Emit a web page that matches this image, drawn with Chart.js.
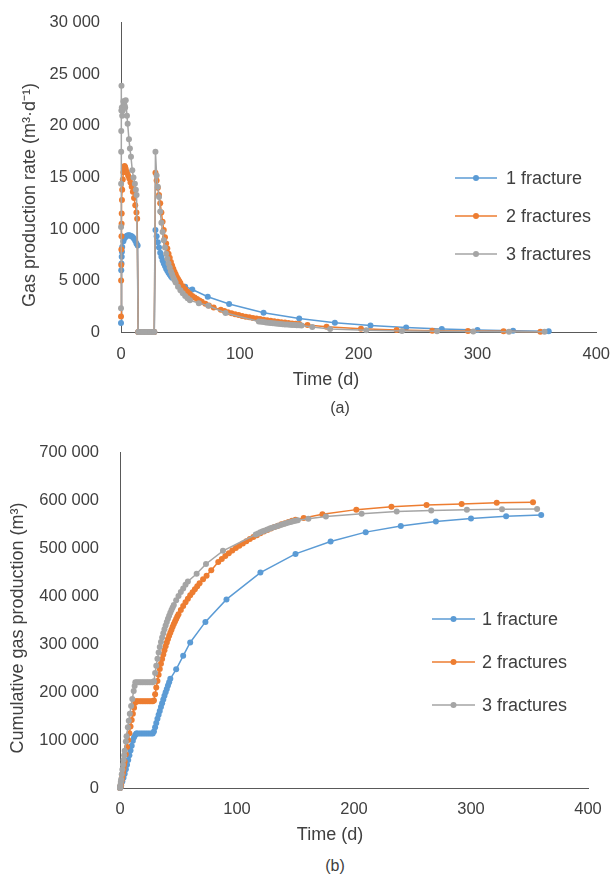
<!DOCTYPE html>
<html>
<head>
<meta charset="utf-8">
<script src="https://cdn.jsdelivr.net/npm/chart.js@4.4.0/dist/chart.umd.min.js"></script>
<style>
  html, body { margin: 0; padding: 0; background: #fff; }
  body { width: 615px; height: 881px; position: relative; overflow: hidden;
         font-family: "Liberation Sans", Arial, sans-serif; color: #404040; }
  .box { position: absolute; left: 0; width: 615px; }
  #boxA { top: 0; height: 400px; }
  #boxB { top: 430px; height: 420px; }
  .cap { position: absolute; width: 60px; text-align: center; font-size: 16px; line-height: 18px; }
</style>
</head>
<body>
<div class="box" id="boxA"><canvas id="rateChart"></canvas></div>
<div class="cap" style="left:310px; top:399px;">(a)</div>
<div class="box" id="boxB"><canvas id="cumChart"></canvas></div>
<div class="cap" style="left:305px; top:857px;">(b)</div>
<script>
// ---- data ----
const seriesNames = ['1 fracture', '2 fractures', '3 fractures'];

// 1 fracture
const tB = [0, 0.2, 0.4, 0.6, 0.8, 1, 2, 3, 4, 5, 6, 7, 8, 9, 10, 11, 12, 13, 14,
    14.5, 16, 17.5, 19, 20.5, 22, 23.5, 25, 26.5, 28,
    29, 30, 31, 32, 33, 34, 35, 36, 37, 38, 39, 40, 41, 42, 43,
    48, 54, 60, 73, 91, 120, 150, 180, 210, 240, 270, 300, 330, 360];
const rateB = [870, 6000, 6650, 7300, 7800, 8250, 8800, 9100, 9250, 9350, 9400, 9400, 9350, 9300, 9200, 9050, 8850, 8600, 8400,
    0, 0, 0, 0, 0, 0, 0, 0, 0, 0,
    9900, 9300, 8700, 8200, 7700, 7300, 6950, 6650, 6400, 6150, 5950, 5750, 5580, 5420, 5270,
    4750, 4400, 4130, 3420, 2710, 1870, 1300, 900, 620, 430, 290, 200, 130, 80];
const cumB = [0, 500, 1500, 2800, 4200, 5700, 13500, 21500, 30000, 39000, 48500, 58500, 68500, 78500, 88500, 98500, 106000, 110500, 114000,
    114000, 114000, 114000, 114000, 114000, 114000, 114000, 114000, 114000, 114000,
    118000, 127000, 136000, 144500, 153000, 161000, 169000, 177000, 185000, 192500, 200000, 207000, 214000, 221000, 228000,
    248000, 276000, 304000, 347000, 394000, 450000, 489000, 515000, 534500, 547500, 556500, 563000, 567500, 570500];

// 2 fractures
const tO = [0, 0.1, 0.2, 0.3, 0.4, 0.5, 0.6, 0.8, 1, 1.5, 2, 2.5, 3, 3.5, 4, 5, 6, 7, 8, 9, 10, 11, 12, 13, 13.6,
    14.5, 16, 17.5, 19, 20.5, 22, 23.5, 25, 26.5, 28,
    29, 30, 31, 32, 33, 34, 35, 36, 37, 38, 39, 40, 41, 42, 43, 44, 45, 46, 47, 48, 49, 50,
    52, 54, 56, 58, 60, 62, 64, 66, 68,
    71, 74, 78,
    84, 87, 90, 93, 96, 99, 102, 105, 108, 111, 114, 117, 120, 123, 126, 129, 132, 135, 138, 141, 144, 147, 150,
    157, 173, 202, 232, 262, 292, 322, 353];
const rateO = [1500, 5000, 6500, 8000, 9300, 10500, 11500, 12800, 13800, 14800, 15500, 15900, 16100, 16000, 15800, 15500, 15200, 14900, 14500, 14100, 13600, 13000, 12300, 11600, 11000,
    0, 0, 0, 0, 0, 0, 0, 0, 0, 0,
    15450, 14700, 14000, 13300, 12500, 11600, 10700, 9900, 9200, 8600, 8100, 7600, 7200, 6800, 6450, 6150, 5850, 5600, 5350, 5150, 4950, 4750,
    4450, 4150, 3900, 3700, 3500, 3350, 3200, 3050, 2930,
    2750, 2580, 2380,
    2150, 2030, 1920, 1820, 1730, 1640, 1560, 1490, 1420, 1360, 1300, 1250, 1200, 1140, 1090, 1040, 990, 950, 910, 870, 830, 800, 770,
    680, 510, 320, 190, 130, 100, 70, 30];
const cumO = [0, 300, 900, 1600, 2500, 3500, 4600, 7000, 9600, 16500, 24000, 31600, 39500, 47300, 55000, 70500, 85500, 100200, 114500, 128500, 142000, 155000, 167400, 178200, 181000,
    181000, 181000, 181000, 181000, 181000, 181000, 181000, 181000, 181000, 181000,
    183000, 196000, 210000, 223500, 236500, 248500, 259500, 269500, 279000, 287800, 296000, 303800, 311000, 318000, 324500, 330700, 336700, 342400, 347800, 353000, 358000, 362800,
    371800, 380200, 388000, 395400, 402400, 409000, 415300, 421300, 427500,
    436000, 443500, 455000,
    472000, 478500, 484700, 490500, 496000, 501200, 506200, 511000, 515600, 520000, 524200, 528200, 532000, 535600, 539000, 542200, 545200, 548000, 550700, 553300, 555800, 558200, 560400,
    564000, 571800, 581500, 587500, 591300, 593500, 596000, 597000];

// 3 fractures
const tG = [0, 0.05, 0.1, 0.15, 0.2, 0.3, 0.4, 0.7, 1, 1.5, 2, 2.5, 3, 3.5, 4, 5, 5.6, 6.7, 7.5, 8.4, 9.5, 10.5, 11.7, 12.5, 13.1,
    14.5, 16, 17.5, 19, 20.5, 22, 23.5, 25, 26.5, 28,
    29, 30, 31, 32, 33, 34, 35, 36, 37, 38, 39, 40, 41, 42, 43, 44, 45, 46, 48, 50, 52, 54, 56, 58,
    65.5, 73.5, 88,
    116, 118, 120, 122, 124, 126, 128, 130, 132, 134, 136, 138, 140, 142, 144, 146, 148, 150, 152,
    161, 176, 206.5, 236.5, 266, 296.5, 326.5, 356.5];
const rateG = [2300, 10200, 14400, 17500, 19500, 21500, 23900, 21800, 21000, 21500, 22400, 22300, 22000, 21800, 22500, 21000, 20200, 18700, 17800, 17000, 15700, 15000, 14400, 13800, 13300,
    0, 0, 0, 0, 0, 0, 0, 0, 0, 0,
    17500, 15200, 14100, 13100, 11700, 10600, 9700, 8900, 8200, 7600, 7100, 6650, 6250, 5900, 5600, 5300, 5050, 4800, 4400, 4050, 3750, 3500, 3270, 3080,
    2800, 2550, 1850,
    1020, 990, 960, 930, 900, 875, 850, 825, 800, 780, 760, 740, 720, 705, 690, 675, 660, 645, 630,
    480, 300, 160, 100, 65, 40, 30, 25];
const cumG = [0, 300, 800, 1500, 2300, 4200, 6300, 12500, 18500, 28500, 38500, 48500, 58500, 68300, 78000, 97000, 108000, 127000, 140500, 155000, 171500, 186000, 202500, 213000, 220800,
    220800, 220800, 220800, 220800, 220800, 220800, 220800, 220800, 220800, 220800,
    223000, 240000, 255500, 270000, 283000, 294500, 305000, 314500, 323500, 331800, 339500, 346800, 353600, 360000, 366000, 371700, 377100, 382300, 392000, 401000, 409300, 417000, 424500, 431500,
    447500, 468000, 495500,
    529500, 531800, 534000, 536100, 538100, 540000, 541900, 543700, 545400, 547000, 548600, 550100, 551600, 553000, 554400, 555700, 557000, 558200, 559400,
    562200, 567000, 573000, 577400, 579500, 581000, 582200, 583000];

const xTicks = [0, 100, 200, 300, 400];
const rateTicks = [0, 5000, 10000, 15000, 20000, 25000, 30000];
const cumTicks = [0, 100000, 200000, 300000, 400000, 500000, 600000, 700000];

// ---- styling ----
const COLORS = ['#5B9BD5', '#ED7D31', '#A5A5A5'];
const TEXT = '#404040';
const AXIS = '#595959';
const FONT_FAMILY = '"Liberation Sans", Arial, sans-serif';

function fmt(v) {
    return String(v).replace(/\B(?=(\d{3})+(?!\d))/g, ' ');
}

function pairs(ts, vs) {
    return ts.map((t, i) => ({ x: t, y: vs[i] }));
}

function makeDatasets(valueSets, timeSets) {
    return valueSets.map((vals, i) => ({
        label: seriesNames[i],
        data: pairs(timeSets[i], vals),
        borderColor: COLORS[i],
        backgroundColor: COLORS[i],
        borderWidth: 1.5,
        pointRadius: 3,
        pointBorderWidth: 0,
        tension: 0,
        clip: false,
        order: 2 - i
    }));
}

// axis titles + legend drawn inside the plot
const decorations = {
    id: 'decorations',
    afterDraw(chart, args, opts) {
        const ctx = chart.ctx;
        ctx.save();
        ctx.font = '18px ' + FONT_FAMILY;
        ctx.fillStyle = TEXT;
        ctx.textAlign = 'center';
        ctx.textBaseline = 'middle';
        ctx.fillText(opts.xTitle, opts.xTitleAt[0], opts.xTitleAt[1]);
        ctx.save();
        ctx.translate(opts.yTitleAt[0], opts.yTitleAt[1]);
        ctx.rotate(-Math.PI / 2);
        ctx.fillText(opts.yTitle, 0, 0);
        ctx.restore();

        const lg = opts.legend;
        chart.data.datasets.forEach((ds, i) => {
            const y = lg.y + i * lg.gap;
            ctx.strokeStyle = ds.borderColor;
            ctx.lineWidth = 1.5;
            ctx.beginPath();
            ctx.moveTo(lg.x, y);
            ctx.lineTo(lg.x + lg.len, y);
            ctx.stroke();
            ctx.fillStyle = ds.borderColor;
            ctx.beginPath();
            ctx.arc(lg.x + lg.len / 2, y, 3, 0, Math.PI * 2);
            ctx.fill();
            ctx.fillStyle = TEXT;
            ctx.textAlign = 'left';
            ctx.fillText(ds.label, lg.x + lg.len + lg.textGap, y + 1);
        });
        ctx.restore();
    }
};

function makeChart(id, datasets, cfg) {
    return new Chart(document.getElementById(id), {
        type: 'line',
        data: { datasets },
        options: {
            responsive: true,
            maintainAspectRatio: false,
            animation: false,
            layout: { padding: cfg.padding },
            plugins: {
                legend: { display: false },
                tooltip: { enabled: false },
                decorations: cfg.decor
            },
            scales: {
                x: {
                    type: 'linear',
                    min: 0, max: 400,
                    afterBuildTicks: s => { s.ticks = xTicks.map(v => ({ value: v })); },
                    afterFit: s => { s.height = cfg.xHeight; },
                    grid: { display: false },
                    border: { display: true, color: AXIS, width: 1 },
                    ticks: { color: TEXT, padding: cfg.xPad, maxRotation: 0, font: { size: 16.5, family: FONT_FAMILY } }
                },
                y: {
                    min: 0, max: cfg.yMax,
                    afterBuildTicks: s => { s.ticks = cfg.yTicks.map(v => ({ value: v })); },
                    afterFit: s => { s.width = cfg.yWidth; },
                    grid: { display: false },
                    border: { display: true, color: AXIS, width: 1 },
                    ticks: { color: TEXT, padding: 13, font: { size: 16.5, family: FONT_FAMILY }, callback: v => fmt(v) }
                }
            }
        },
        plugins: [decorations]
    });
}

makeChart('rateChart', makeDatasets([rateB, rateO, rateG], [tB, tO, tG]), {
    padding: { left: 0, right: 15, top: 22, bottom: 0 },
    xHeight: 68, xPad: 5, yWidth: 121, yMax: 30000, yTicks: rateTicks,
    decor: {
        xTitle: 'Time (d)', xTitleAt: [326, 380],
        yTitle: 'Gas production rate (m\u00B3\u00B7d\u207B\u00B9)', yTitleAt: [30, 195],
        legend: { x: 455, y: 178, gap: 38, len: 42, textGap: 9 }
    }
});

makeChart('cumChart', makeDatasets([cumB, cumO, cumG], [tB, tO, tG]), {
    padding: { left: 0, right: 27, top: 21, bottom: 0 },
    xHeight: 62, xPad: 4, yWidth: 120, yMax: 700000, yTicks: cumTicks,
    decor: {
        xTitle: 'Time (d)', xTitleAt: [330, 405],
        yTitle: 'Cumulative gas production (m\u00B3)', yTitleAt: [18, 198],
        legend: { x: 432, y: 189, gap: 43, len: 43, textGap: 7 }
    }
});
</script>
</body>
</html>
